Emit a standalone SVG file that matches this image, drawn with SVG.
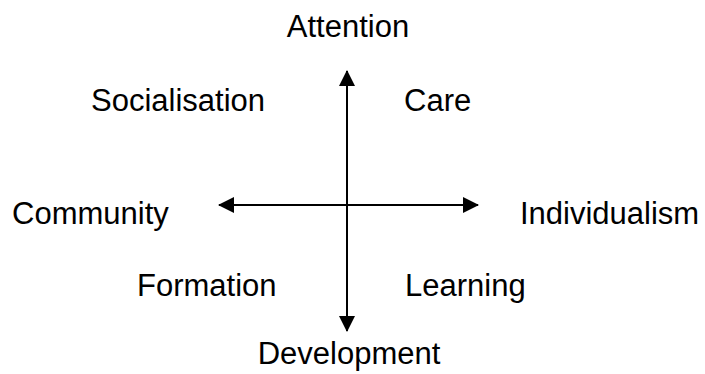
<svg xmlns="http://www.w3.org/2000/svg" width="705" height="374" viewBox="0 0 705 374">
<style>
text{font-family:"Liberation Sans",Arial,sans-serif;font-size:31px;fill:#000}
.ax{stroke:#000;stroke-width:2;fill:none}
</style>
<defs>
<marker id="ah" viewBox="0 0 16 16" refX="15" refY="8" markerWidth="16" markerHeight="16" markerUnits="userSpaceOnUse" orient="auto-start-reverse">
<path d="M0,0 L16,8 L0,16 Z" fill="#000"/>
</marker>
</defs>
<rect width="705" height="374" fill="#fff"/>
<g id="connectors">
<line class="ax" x1="347" y1="71" x2="347" y2="331" marker-start="url(#ah)" marker-end="url(#ah)"/>
<line class="ax" x1="219" y1="205" x2="478" y2="205" marker-start="url(#ah)" marker-end="url(#ah)"/>
</g>
<g id="attention"><text x="348" y="37" text-anchor="middle">Attention</text></g>
<g id="socialisation"><text x="91" y="111">Socialisation</text></g>
<g id="care"><text x="404" y="111">Care</text></g>
<g id="community"><text x="12" y="224">Community</text></g>
<g id="individualism"><text x="520" y="224">Individualism</text></g>
<g id="formation"><text x="137" y="296">Formation</text></g>
<g id="learning"><text x="405" y="296">Learning</text></g>
<g id="development"><text x="349" y="364" text-anchor="middle">Development</text></g>
</svg>
